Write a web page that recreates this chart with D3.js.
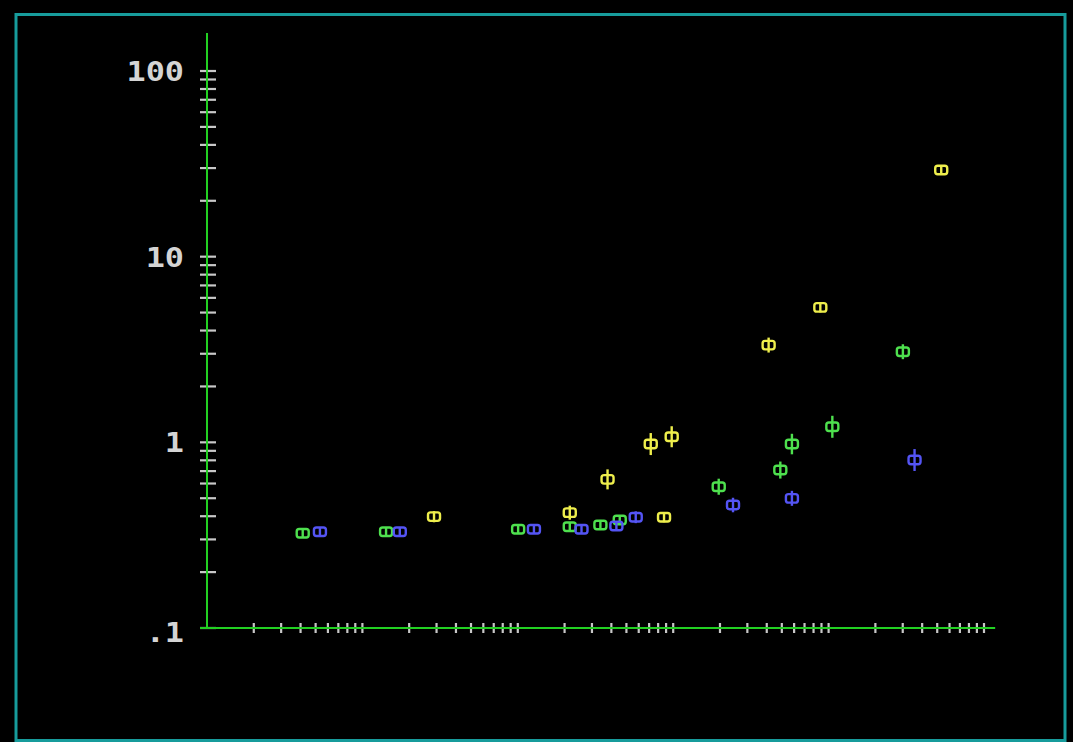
<!DOCTYPE html>
<html>
<head>
<meta charset="utf-8">
<script src="https://cdn.jsdelivr.net/npm/d3@7/dist/d3.min.js"></script>
<style>
  html, body { margin: 0; padding: 0; background: #000; }
  svg { display: block; }
</style>
</head>
<body>
<svg id="chart" width="1073" height="742"></svg>
<script>
// ---- Data (x on log scale, y on log scale; lo/hi are error-bar bounds) ----
const yellowX  = [28.9, 216, 378, 717, 873, 978, 4112, 8846, 53060];
const yellowY  = [0.398, 0.418, 0.632, 0.979, 0.395, 1.072, 3.34, 5.33, 29.3];
const yellowLo = [0.371, 0.383, 0.558, 0.854, 0.371, 0.941, 3.045, 5.01, 29.3];
const yellowHi = [0.426, 0.456, 0.715, 1.122, 0.420, 1.221, 3.665, 5.67, 29.3];

const greenX  = [4.13, 14.2, 100.5, 216, 340, 453, 1963, 4890, 5807, 10570, 30060];
const greenY  = [0.3236, 0.330, 0.340, 0.351, 0.359, 0.382, 0.577, 0.709, 0.979, 1.213, 3.076];
const greenLo = [0.3236, 0.330, 0.340, 0.351, 0.337, 0.359, 0.522, 0.638, 0.862, 1.058, 2.804];
const greenHi = [0.3236, 0.330, 0.340, 0.351, 0.382, 0.406, 0.637, 0.788, 1.112, 1.390, 3.374];

const blueX  = [5.33, 17.4, 127, 257, 431, 574, 2426, 5807, 35730];
const blueY  = [0.330, 0.330, 0.340, 0.340, 0.354, 0.395, 0.460, 0.499, 0.803];
const blueLo = [0.330, 0.330, 0.340, 0.340, 0.333, 0.367, 0.420, 0.455, 0.701];
const blueHi = [0.330, 0.330, 0.340, 0.340, 0.377, 0.425, 0.503, 0.548, 0.920];

const yTickLabels = ["100", "10", "1", ".1"];
const yLabelValues = [100, 10, 1, 0.1];
const yTickValues = [];
[0.1, 1, 10].forEach(d => { for (let k = 1; k <= 9; k++) yTickValues.push(+(k * d).toPrecision(3)); });
yTickValues.push(100);
const xTickValues = [];
[1, 10, 100, 1000, 10000].forEach(d => { for (let k = 2; k <= 10; k++) xTickValues.push(k * d); });

const xDomain = [1, 1e5];
const yDomain = [0.1, 100];
const xAxisEnd = 1.18e5;
const yAxisEnd = 160;

// ---- Drawing ----
const svg = d3.select("#chart");
svg.append("rect").attr("width", 1073).attr("height", 742).attr("fill", "#000");

// teal frame
svg.append("rect")
  .attr("x", 16).attr("y", 14.5).attr("width", 1049).attr("height", 726)
  .attr("fill", "none").attr("stroke", "#179c9c").attr("stroke-width", 3);

const x = d3.scaleLog().domain(xDomain).range([207, 984]);
const y = d3.scaleLog().domain(yDomain).range([628, 71]);

const tickColor = "#c8c8c8";
const axisColor = "#22d022";

// y ticks (cross the axis)
svg.append("g").selectAll("line").data(yTickValues).join("line")
  .attr("x1", x(1) - 7).attr("x2", x(1) + 9)
  .attr("y1", d => y(d)).attr("y2", d => y(d))
  .attr("stroke", tickColor).attr("stroke-width", 2.2);

// x ticks
svg.append("g").selectAll("line").data(xTickValues).join("line")
  .attr("x1", d => x(d)).attr("x2", d => x(d))
  .attr("y1", y(0.1) - 5).attr("y2", y(0.1) + 5)
  .attr("stroke", tickColor).attr("stroke-width", 2.2);

// axes lines
svg.append("line")
  .attr("x1", x(1)).attr("x2", x(1))
  .attr("y1", y(0.1)).attr("y2", y(yAxisEnd))
  .attr("stroke", axisColor).attr("stroke-width", 2);
svg.append("line")
  .attr("x1", x(1) - 7).attr("x2", x(xAxisEnd))
  .attr("y1", y(0.1)).attr("y2", y(0.1))
  .attr("stroke", axisColor).attr("stroke-width", 2);

// y labels
const sx = 1.18;
const labelG = svg.append("g").attr("transform", `scale(${sx},1)`);
labelG.selectAll("text").data(yTickLabels).join("text")
  .attr("x", 184 / sx)
  .attr("y", (d, i) => y(yLabelValues[i]) + (i === 3 ? 14 : 10))
  .attr("text-anchor", "end")
  .attr("font-family", "DejaVu Sans Mono, Liberation Mono, monospace")
  .attr("font-weight", "bold")
  .attr("font-size", 27)
  .attr("fill", "#d4d4d4")
  .text(d => d);

// series
const series = [
  { xs: greenX, ys: greenY, lo: greenLo, hi: greenHi, color: "#4ee04e" },
  { xs: blueX, ys: blueY, lo: blueLo, hi: blueHi, color: "#5454f4" },
  { xs: yellowX, ys: yellowY, lo: yellowLo, hi: yellowHi, color: "#eeee4c" }
];

const mw = 12, mh = 8.5;
series.forEach(s => {
  const pts = s.xs.map((v, i) => ({ x: v, y: s.ys[i], lo: s.lo[i], hi: s.hi[i] }));
  const g = svg.append("g");
  // error bars
  g.selectAll("line.err").data(pts).join("line").attr("class", "err")
    .attr("x1", d => x(d.x)).attr("x2", d => x(d.x))
    .attr("y1", d => Math.min(y(d.hi), y(d.y) - mh / 2))
    .attr("y2", d => Math.max(y(d.lo), y(d.y) + mh / 2))
    .attr("stroke", s.color).attr("stroke-width", 2.4);
  // marker box
  g.selectAll("rect").data(pts).join("rect")
    .attr("x", d => x(d.x) - mw / 2).attr("y", d => y(d.y) - mh / 2)
    .attr("width", mw).attr("height", mh).attr("rx", 2.5)
    .attr("fill", "none").attr("stroke", s.color).attr("stroke-width", 2.4);
});
</script>
</body>
</html>
